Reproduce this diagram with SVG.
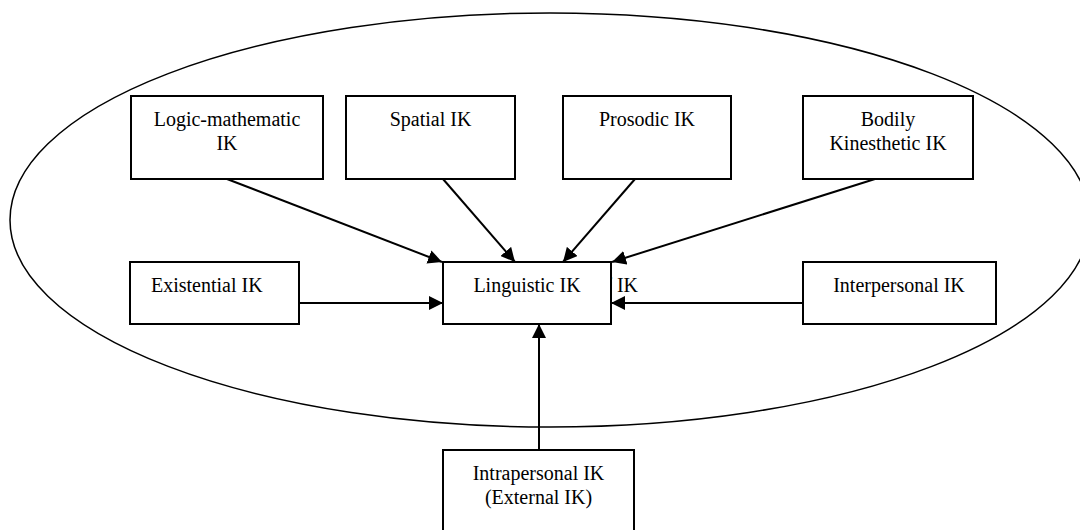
<svg xmlns="http://www.w3.org/2000/svg" width="1080" height="530" viewBox="0 0 1080 530">
  <style>
    .box { fill: #ffffff; stroke: #000000; stroke-width: 2; }
    .lbl { font-family: "Liberation Serif", "Times New Roman", serif; font-size: 20px; fill: #000000; }
    .c { text-anchor: middle; }
    .conn { stroke: #000000; stroke-width: 2; fill: none; marker-end: url(#arrow); }
    .frame { fill: none; stroke: #000000; stroke-width: 1.5; }
  </style>
  <defs>
    <marker id="arrow" markerUnits="userSpaceOnUse" markerWidth="15" markerHeight="14" refX="14" refY="7" orient="auto">
      <path d="M0,0 L14,7 L0,14 z" fill="#000000"/>
    </marker>
  </defs>
  <rect x="0" y="0" width="1080" height="530" fill="#ffffff"/>
  <ellipse class="frame" cx="550" cy="220" rx="540" ry="207"/>

  <g id="connectors">
    <line class="conn" x1="227" y1="179" x2="442" y2="262"/>
    <line class="conn" x1="443" y1="179" x2="515" y2="262"/>
    <line class="conn" x1="635" y1="179" x2="563" y2="262"/>
    <line class="conn" x1="875" y1="179" x2="612" y2="262"/>
    <line class="conn" x1="299" y1="303" x2="443" y2="303"/>
    <line class="conn" x1="803" y1="303" x2="611" y2="303"/>
    <line class="conn" x1="539" y1="450" x2="539" y2="324"/>
  </g>

  <g id="node-logic">
    <rect class="box" x="131" y="96" width="192" height="83"/>
    <text class="lbl c" x="227" y="126">Logic-mathematic</text>
    <text class="lbl c" x="227" y="150">IK</text>
  </g>
  <g id="node-spatial">
    <rect class="box" x="346" y="96" width="169" height="83"/>
    <text class="lbl c" x="430.5" y="126">Spatial IK</text>
  </g>
  <g id="node-prosodic">
    <rect class="box" x="563" y="96" width="168" height="83"/>
    <text class="lbl c" x="647" y="126">Prosodic IK</text>
  </g>
  <g id="node-bodily">
    <rect class="box" x="803" y="96" width="170" height="83"/>
    <text class="lbl c" x="888" y="126">Bodily</text>
    <text class="lbl c" x="888" y="150">Kinesthetic IK</text>
  </g>
  <g id="node-existential">
    <rect class="box" x="130" y="262" width="169" height="62"/>
    <text class="lbl" x="151" y="292">Existential IK</text>
  </g>
  <g id="hidden-label">
    <text class="lbl" x="638" y="292" text-anchor="end">f IK</text>
  </g>
  <g id="node-linguistic">
    <rect class="box" x="443" y="262" width="168" height="62"/>
    <text class="lbl c" x="527" y="292">Linguistic IK</text>
  </g>
  <g id="node-interpersonal">
    <rect class="box" x="803" y="262" width="193" height="62"/>
    <text class="lbl c" x="899" y="292">Interpersonal IK</text>
  </g>
  <g id="node-intrapersonal">
    <rect class="box" x="443" y="450" width="191" height="95"/>
    <text class="lbl c" x="538.5" y="480">Intrapersonal IK</text>
    <text class="lbl c" x="538.5" y="504">(External IK)</text>
  </g>
</svg>
